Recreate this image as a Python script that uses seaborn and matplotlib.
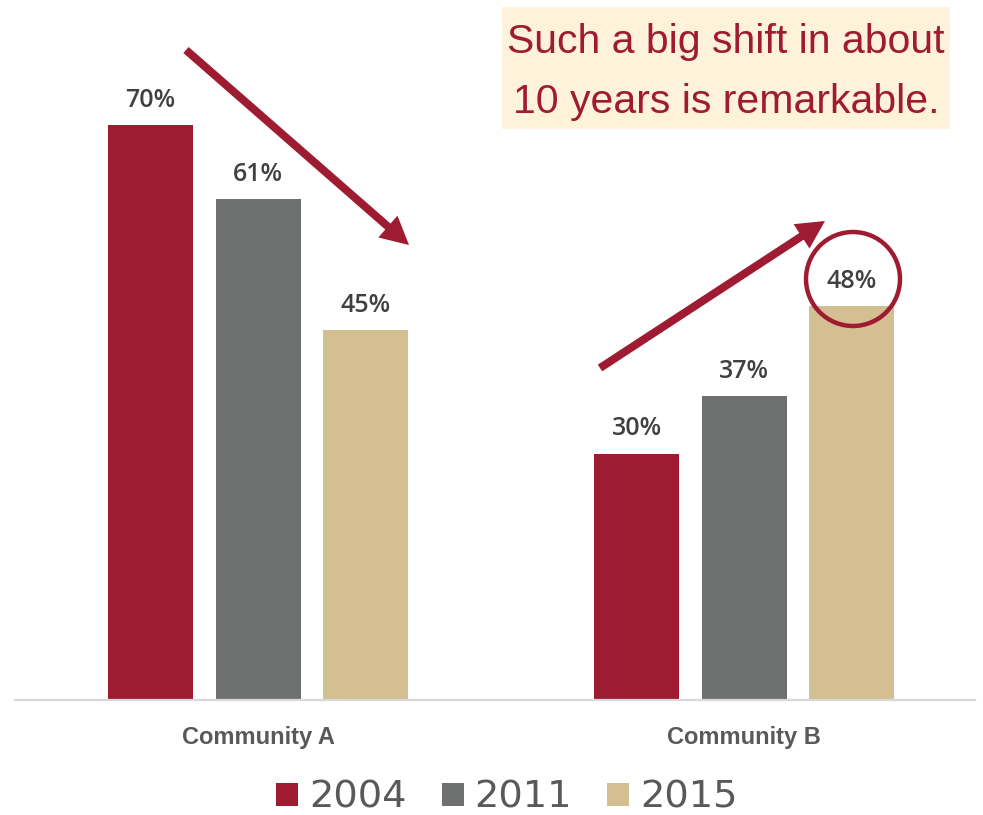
import matplotlib
matplotlib.use("Agg")
import matplotlib.pyplot as plt
from matplotlib.patches import Circle, Patch, Rectangle, FancyArrow
from matplotlib.transforms import IdentityTransform
import seaborn as sns
import pandas as pd

# Survey shares by community and year (percent)
communities = ["Community A", "Community B"]
years = ["2004", "2011", "2015"]
share_2004 = [70, 30]
share_2011 = [61, 37]
share_2015 = [45, 48]
palette = ["#9E1B32", "#6D706F", "#D4BF93"]
callout = ["Such a big shift in about", "10 years is remarkable."]

df = pd.DataFrame({
    "community": communities * 3,
    "year": [y for y in years for _ in communities],
    "share": share_2004 + share_2011 + share_2015,
})

sns.set_theme(style="white")
plt.rcParams["font.family"] = ["Liberation Sans", "DejaVu Sans"]

W, H = 983, 815
fig = plt.figure(figsize=(W / 100, H / 100), dpi=100)
ax = fig.add_axes([15 / W, (H - 700) / H, 960 / W, 700 / H])

sns.barplot(data=df, x="community", y="share", hue="year", hue_order=years,
            palette=palette, width=0.664, gap=0.21, saturation=1,
            edgecolor="none", ax=ax)

ax.set_xlim(-0.5, 1.475)
ax.set_ylim(0, 85.2)
ax.set_xlabel("")
ax.set_ylabel("")
ax.set_yticks([])
for s in ["top", "right", "left"]:
    ax.spines[s].set_visible(False)
ax.spines["bottom"].set_color("#D9D9D9")
ax.spines["bottom"].set_linewidth(1.6)
ax.tick_params(axis="x", length=0, pad=19)
for lbl in ax.get_xticklabels():
    lbl.set_fontsize(17)
    lbl.set_fontweight("bold")
    lbl.set_color("#595959")

# Value labels above each bar
for cont in ax.containers:
    for bar, v in zip(cont.patches, cont.datavalues):
        ax.annotate(f"{v:.0f}%", (bar.get_x() + bar.get_width() / 2, v),
                    xytext=(0, 13), textcoords="offset points",
                    ha="center", va="baseline", fontsize=18,
                    color="#404040", family=["Open Sans", "DejaVu Sans"],
                    fontweight="semibold")

# Legend below the axis
handles = [Patch(facecolor=c, edgecolor="none") for c in palette]
ax.get_legend().remove()
fig.legend(handles, years, loc="center", bbox_to_anchor=(507 / W, (H - 798) / H),
           ncol=3, frameon=False, labelcolor="#595959",
           prop={"family": "DejaVu Sans", "size": 27.6},
           handlelength=0.57, handleheight=0.57, handletextpad=0.29,
           columnspacing=0.91, borderpad=0, borderaxespad=0)

# Callout box and text
fig.add_artist(Rectangle((502, H - 129), 448, 122, transform=IdentityTransform(),
                         facecolor="#FFF2DB", edgecolor="none"))
for line, base in zip(callout, [53, 113]):
    fig.text(726 / W, (H - base) / H, line, ha="center", va="baseline",
             fontsize=29.5, color="#9E1B32")

# Trend arrows
arrow_kw = dict(width=8, head_width=29, head_length=28, length_includes_head=True,
                color="#9E1B32", lw=0, transform=IdentityTransform())
for (x0, y0), (x1, y1) in [((186, 50), (409, 245)), ((600, 368), (825, 221))]:
    fig.add_artist(FancyArrow(x0, H - y0, x1 - x0, -(y1 - y0), **arrow_kw))

# Highlight ring around the latest Community B value
fig.add_artist(Circle((853, H - 279), 47, transform=IdentityTransform(),
                      facecolor="none", edgecolor="#9E1B32", lw=3.2))

fig.savefig("out.png", dpi=100)
